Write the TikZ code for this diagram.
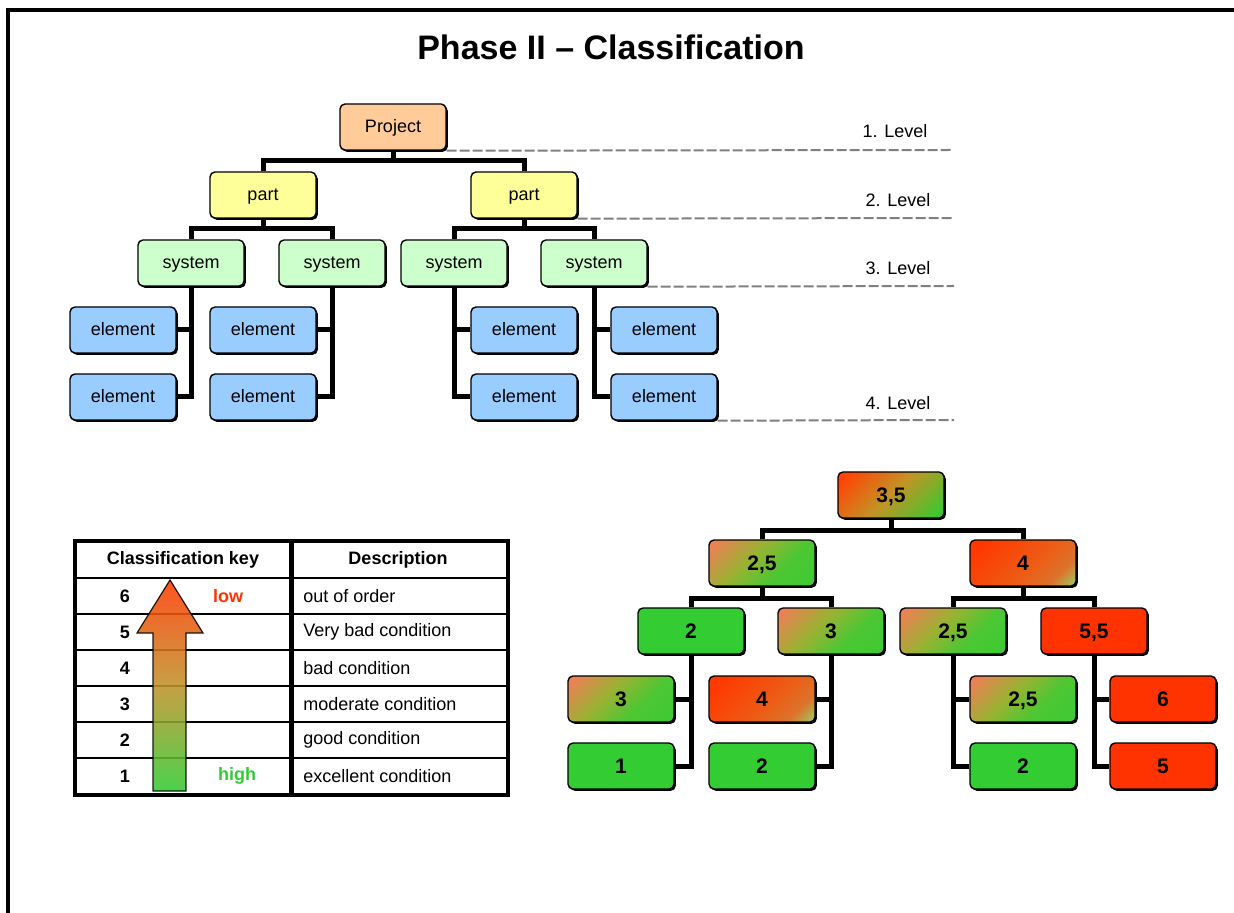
\documentclass[tikz,border=0pt]{standalone}
\usepackage{fontspec}
\setmainfont{Liberation Sans}
\usetikzlibrary{shadows}
\definecolor{projcol}{HTML}{FFCC99}
\definecolor{partcol}{HTML}{FFFF99}
\definecolor{syscol}{HTML}{CCFFCC}
\definecolor{elcol}{HTML}{99CCFF}
\definecolor{goodgreen}{HTML}{33CC33}
\definecolor{badred}{HTML}{FF3300}
\definecolor{midcol}{HTML}{C0922A}
\definecolor{lvlgray}{HTML}{808080}
\pgfdeclarehorizontalshading{mixroot}{100bp}{rgb(0bp)=(1,.27,.02); rgb(20bp)=(1,.27,.02); rgb(50bp)=(.76,.58,.15); rgb(80bp)=(.25,.78,.18); rgb(100bp)=(.25,.78,.18)}
\pgfdeclarehorizontalshading{mixgood}{100bp}{rgb(0bp)=(.93,.5,.33); rgb(18bp)=(.93,.5,.33); rgb(42bp)=(.6,.7,.2); rgb(62bp)=(.3,.78,.2); rgb(100bp)=(.2,.8,.2)}
\pgfdeclarehorizontalshading{mixbad}{100bp}{rgb(0bp)=(1,.22,0); rgb(22bp)=(1,.22,0); rgb(55bp)=(.93,.36,.08); rgb(72bp)=(.86,.45,.17); rgb(86bp)=(.6,.82,.4); rgb(100bp)=(.6,.82,.4)}
\tikzset{
  box/.style={draw,line width=0.7pt,rounded corners=2.5pt,minimum width=53pt,minimum height=23pt,inner sep=0pt,
    text height=6.5pt,text depth=0.5pt,
    font=\fontsize{9}{10}\selectfont,drop shadow={shadow xshift=0.9pt,shadow yshift=-0.9pt,opacity=1,fill=black}},
  vbox/.style={box,text height=7.6pt,text depth=0pt,font=\fontsize{10.5}{12}\bfseries\selectfont},
  mixr/.style={vbox,shade,shading=mixroot,shading angle=-45},
  mixg/.style={vbox,shade,shading=mixgood,shading angle=-45},
  mixb/.style={vbox,shade,shading=mixbad,shading angle=-45},
  good/.style={vbox,fill=goodgreen},
  bad/.style={vbox,fill=badred},
  conn/.style={line width=2.5pt},
  lvl/.style={line width=1pt,lvlgray,dash pattern=on 5pt off 1.5pt},
  lvltxt/.style={font=\fontsize{9}{10}\selectfont},
  keyhead/.style={font=\fontsize{9}{10}\bfseries\selectfont},
  keydesc/.style={font=\fontsize{9}{10}\selectfont,anchor=west,inner sep=0pt}
}
\begin{document}
\begin{tikzpicture}[x=0.5pt,y=-0.5pt]
\useasboundingbox (0,0) rectangle (1234,913);
\draw[line width=2pt] (8,913) -- (8,10) -- (1234,10);
\node[font=\fontsize{17}{20}\bfseries\selectfont] (title) at (611,47) {Phase II \textendash{} Classification};

% structure tree
\node[box,fill=projcol] (proj) at (393,127) {Project};
\node[box,fill=partcol] (partL) at (263,195) {part};
\node[box,fill=partcol] (partR) at (524,195) {part};
\node[box,fill=syscol] (sysLL) at (191,263) {system};
\node[box,fill=syscol] (sysLR) at (332,263) {system};
\node[box,fill=syscol] (sysRL) at (454,263) {system};
\node[box,fill=syscol] (sysRR) at (594,263) {system};
\foreach \nm/\x in {LL/123,LR/263,RL/524,RR/664}{
  \node[box,fill=elcol] (el\nm1) at (\x,330) {element};
  \node[box,fill=elcol] (el\nm2) at (\x,397) {element};
}
\draw[conn] (proj.south) -- ++(0,10) -| (partL.north);
\draw[conn] (proj.south) -- ++(0,10) -| (partR.north);
\draw[conn] (partL.south) -- ++(0,10) -| (sysLL.north);
\draw[conn] (partL.south) -- ++(0,10) -| (sysLR.north);
\draw[conn] (partR.south) -- ++(0,10) -| (sysRL.north);
\draw[conn] (partR.south) -- ++(0,10) -| (sysRR.north);
\foreach \s in {LL,LR}{
  \draw[conn] (sys\s.south) |- (el\s1.east);
  \draw[conn] (sys\s.south) |- (el\s2.east);
}
\foreach \s in {RL,RR}{
  \draw[conn] (sys\s.south) |- (el\s1.west);
  \draw[conn] (sys\s.south) |- (el\s2.west);
}

% levels
\coordinate (lv1) at (952,150);
\coordinate (lv2) at (954,218);
\coordinate (lv3) at (954,286);
\coordinate (lv4) at (954,420);
\draw[lvl] (proj.south east) -- (lv1);
\draw[lvl] (partR.south east) -- (lv2);
\draw[lvl] (sysRR.south east) -- (lv3);
\draw[lvl] (elRR2.south east) -- (lv4);
\node[lvltxt] (lab1) at (895,131) {1. Level};
\node[lvltxt] (lab2) at (898,200) {2. Level};
\node[lvltxt] (lab3) at (898,268) {3. Level};
\node[lvltxt] (lab4) at (898,403) {4. Level};

% classification key
\draw[line width=2pt] (75,541) rectangle (508,795);
\foreach \y in {578,614,650,686,722,758} \draw[line width=1.2pt] (75,\y) -- (508,\y);
\draw[line width=2.5pt] (291,541) -- (291,795);
\node[keyhead] (hkey) at (183,560) {Classification key};
\node[keyhead] (hdesc) at (398,560) {Description};
\shade[draw=black,line width=0.6pt,bottom color=goodgreen,top color=badred!90!orange,middle color=midcol,opacity=.88]
  (153,791) -- (153,633) -- (137,633) -- (170,580) -- (203,633) -- (186,633) -- (186,791) -- cycle;
\foreach \n/\txt in {6/out of order,5/Very bad condition,4/bad condition,3/moderate condition,2/good condition,1/excellent condition}{
  \node[keyhead] (k\n) at (125,{596+36*(6-\n)}) {\n};
  \node[keydesc] (d\n) at (303,{596+36*(6-\n)}) {\txt};
}
\node[keyhead,text=badred] (low) at (228,596) {low};
\node[keyhead,text=goodgreen] (high) at (237,776) {high};

% classified tree
\node[mixr] (cRoot) at (891,495) {3,5};
\node[mixg] (cL) at (762,563) {2,5};
\node[mixb] (cR) at (1023,563) {4};
\node[good] (cLL) at (691,631) {2};
\node[mixg] (cLR) at (831,631) {3};
\node[mixg] (cRL) at (953,631) {2,5};
\node[bad] (cRR) at (1094,631) {5,5};
\node[mixg] (cLL1) at (621,699) {3};
\node[good] (cLL2) at (621,766) {1};
\node[mixb] (cLR1) at (762,699) {4};
\node[good] (cLR2) at (762,766) {2};
\node[mixg] (cRL1) at (1023,699) {2,5};
\node[good] (cRL2) at (1023,766) {2};
\node[bad] (cRR1) at (1163,699) {6};
\node[bad] (cRR2) at (1163,766) {5};
\draw[conn] (cRoot.south) -- ++(0,12) -| (cL.north);
\draw[conn] (cRoot.south) -- ++(0,12) -| (cR.north);
\draw[conn] (cL.south) -- ++(0,12) -| (cLL.north);
\draw[conn] (cL.south) -- ++(0,12) -| (cLR.north);
\draw[conn] (cR.south) -- ++(0,12) -| (cRL.north);
\draw[conn] (cR.south) -- ++(0,12) -| (cRR.north);
\foreach \s in {LL,LR}{
  \draw[conn] (c\s.south) |- (c\s1.east);
  \draw[conn] (c\s.south) |- (c\s2.east);
}
\foreach \s in {RL,RR}{
  \draw[conn] (c\s.south) |- (c\s1.west);
  \draw[conn] (c\s.south) |- (c\s2.west);
}
\end{tikzpicture}
\end{document}
